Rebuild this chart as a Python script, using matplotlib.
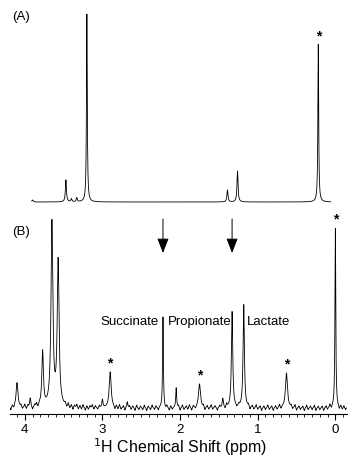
import numpy as np
import matplotlib
matplotlib.use("Agg")
import matplotlib.pyplot as plt
from matplotlib.ticker import MultipleLocator

plt.rcParams['font.family'] = ['Liberation Sans', 'DejaVu Sans']

# ---- Panel A: peaks (ppm, height, half-width ppm) ----
a_ppm = [3.90, 3.47, 3.40, 3.33, 3.20, 1.39, 1.26, 0.22]
a_height = [2, 22, 3, 4, 189, 12, 31, 158]
a_width = [0.010, 0.008, 0.008, 0.008, 0.006, 0.008, 0.008, 0.006]
a_baseline = 3
a_range = [3.91, 0.06]
a_stars = [0.22]

# ---- Panel B: peaks ----
b_ppm = [4.10, 3.93, 3.77, 3.65, 3.57, 3.00, 2.90, 2.68, 2.22, 2.05,
         1.75, 1.45, 1.33, 1.18, 0.63, 0.00]
b_height = [25, 9, 55, 184, 145, 8, 36, 6, 91, 20, 24, 9, 96, 103, 35, 180]
b_width = [0.014, 0.008, 0.012, 0.014, 0.014, 0.008, 0.015, 0.008, 0.006, 0.007,
           0.015, 0.008, 0.010, 0.010, 0.015, 0.006]
b_baseline = 6
b_stars = [2.90, 1.75, 0.63, 0.00]
# small baseline wiggles (ppm, amplitude)
noise_ppm = [4.18, 4.16, 4.14, 4.05, 4.03, 4.00, 3.98, 3.96, 3.90, 3.87, 3.85,
             3.83, 3.81, 3.48, 3.46, 3.44, 3.42, 3.40, 3.38, 3.36, 3.33, 3.31,
             3.29, 3.27, 3.25, 3.22, 3.20, 3.18, 3.16, 3.13, 3.11, 3.09, 3.06,
             3.04, 2.84, 2.82, 2.80, 2.78, 2.76, 2.73, 2.71, 2.65, 2.63, 2.61,
             2.58, 2.56, 2.53, 2.51, 2.48, 2.46, 2.43, 2.41, 2.38, 2.36, 2.33,
             2.31, 2.28, 2.19, 2.17, 2.14, 2.12, 2.10, 2.02, 2.00, 1.97, 1.95,
             1.92, 1.90, 1.88, 1.85, 1.83, 1.80, 1.70, 1.68, 1.65, 1.63, 1.60,
             1.58, 1.55, 1.52, 1.49, 1.42, 1.40, 1.27, 1.24, 1.12, 1.10, 1.07,
             1.05, 1.02, 1.00, 0.97, 0.95, 0.92, 0.90, 0.87, 0.85, 0.82, 0.80,
             0.77, 0.75, 0.72, 0.70, 0.57, 0.55, 0.52, 0.50, 0.47, 0.45, 0.42,
             0.40, 0.37, 0.35, 0.32, 0.30, 0.27, 0.25, 0.22, 0.20, 0.17, 0.15,
             0.12, 0.10, 0.07, 0.05, -0.05, -0.07, -0.09, -0.11, -0.13]
noise_amp = [-3, 2, -2, 2, -2, 3, -2, 2, -3, 2, 3, -2, 2, 2, -2, 3, -2, 2, -3,
             2, 3, -2, 2, -2, 3, -3, 2, -2, 2, 3, -2, 2, -2, 2, -3, 2, -2, 3,
             -2, 2, -3, 2, -2, 2, -3, 3, -2, 2, -2, 3, -3, 2, -2, 3, -2, 2, -3,
             -2, 2, -3, 2, -2, 2, -3, 3, -2, 2, -2, 3, -3, 2, -2, 2, -3, 2, -2,
             3, -2, 2, -3, 2, -2, 3, -2, 2, 2, -3, 2, -2, 3, -2, 2, -3, 2, -2,
             3, -2, 2, -3, 2, -2, 3, -2, 2, -2, 3, -3, 2, -2, 2, -3, 3, -2, 2,
             -2, 3, -3, 2, -2, 2, -3, 2, -2, 3, -2, -3, 2, -2, 2, -2]

arrow_ppm = [2.22, 1.33]
labels = ['Succinate', 'Propionate', 'Lactate']
label_ppm = [2.28, 2.16, 1.14]
label_ha = ['right', 'left', 'left']


def spectrum(x, pos, hts, wds, base):
    y = np.full_like(x, float(base))
    for p, h, w in zip(pos, hts, wds):
        y += h * w**2 / ((x - p)**2 + w**2)
    return y


W, H = 352, 463
fig = plt.figure(figsize=(W / 100, H / 100), dpi=100)

x_left, x_right = 10 / W, 347 / W
xlim = (4.19, -0.15)

# Panel A axes
axA = fig.add_axes([x_left, (H - 205) / H, x_right - x_left, 197 / H])
xa = np.linspace(a_range[0], a_range[1], 4000)
ya = spectrum(xa, a_ppm, a_height, a_width, a_baseline)
axA.plot(xa, ya, color='black', lw=0.6)
axA.set_xlim(*xlim)
axA.set_ylim(0, 197)
axA.axis('off')
for s in a_stars:
    h = spectrum(np.array([s]), a_ppm, a_height, a_width, a_baseline)[0]
    axA.text(s, h + 1, '*', ha='center', va='bottom', fontsize=10, fontweight='bold')
fig.text(12 / W, 1 - 17 / H, '(A)', fontsize=9.5, va='center', ha='left')

# Panel B axes
axB = fig.add_axes([x_left, (H - 414) / H, x_right - x_left, 199 / H])
xb = np.linspace(xlim[0], xlim[1], 6000)
yb = spectrum(xb, b_ppm, b_height, b_width, b_baseline)
yb += spectrum(xb, noise_ppm, noise_amp, [0.006] * len(noise_ppm), 0)
axB.plot(xb, yb, color='black', lw=0.6)
axB.set_xlim(*xlim)
axB.set_ylim(0, 199)
for sp in ['top', 'left', 'right']:
    axB.spines[sp].set_visible(False)
axB.spines['bottom'].set_linewidth(0.8)
axB.set_yticks([])
axB.xaxis.set_major_locator(MultipleLocator(1))
axB.xaxis.set_minor_locator(MultipleLocator(0.1))
axB.tick_params(axis='x', which='major', length=4, width=0.8, labelsize=9.5, pad=3)
axB.tick_params(axis='x', which='minor', length=2, width=0.6)
axB.set_xticks([4, 3, 2, 1, 0])
axB.set_xticklabels(['4', '3', '2', '1', '0'])
fig.text(180 / W, 1 - 447 / H, r'$^{1}$H Chemical Shift (ppm)', fontsize=11.5,
         ha='center', va='center')

for s in b_stars:
    h = spectrum(np.array([s]), b_ppm, b_height, b_width, b_baseline)[0]
    axB.text(s, h + 1, '*', ha='center', va='bottom', fontsize=10, fontweight='bold')

for a in arrow_ppm:
    axB.annotate('', xy=(a, 161), xytext=(a, 195),
                 arrowprops=dict(arrowstyle='-|>,head_length=0.9,head_width=0.35',
                                 color='black', lw=0.7, shrinkA=0, shrinkB=0),
                 annotation_clip=False)

for t, p, ha in zip(labels, label_ppm, label_ha):
    axB.text(p, 92, t, ha=ha, va='center', fontsize=9.5)

fig.text(12 / W, 1 - 232 / H, '(B)', fontsize=9.5, va='center', ha='left')

fig.savefig('out.png', dpi=100)
